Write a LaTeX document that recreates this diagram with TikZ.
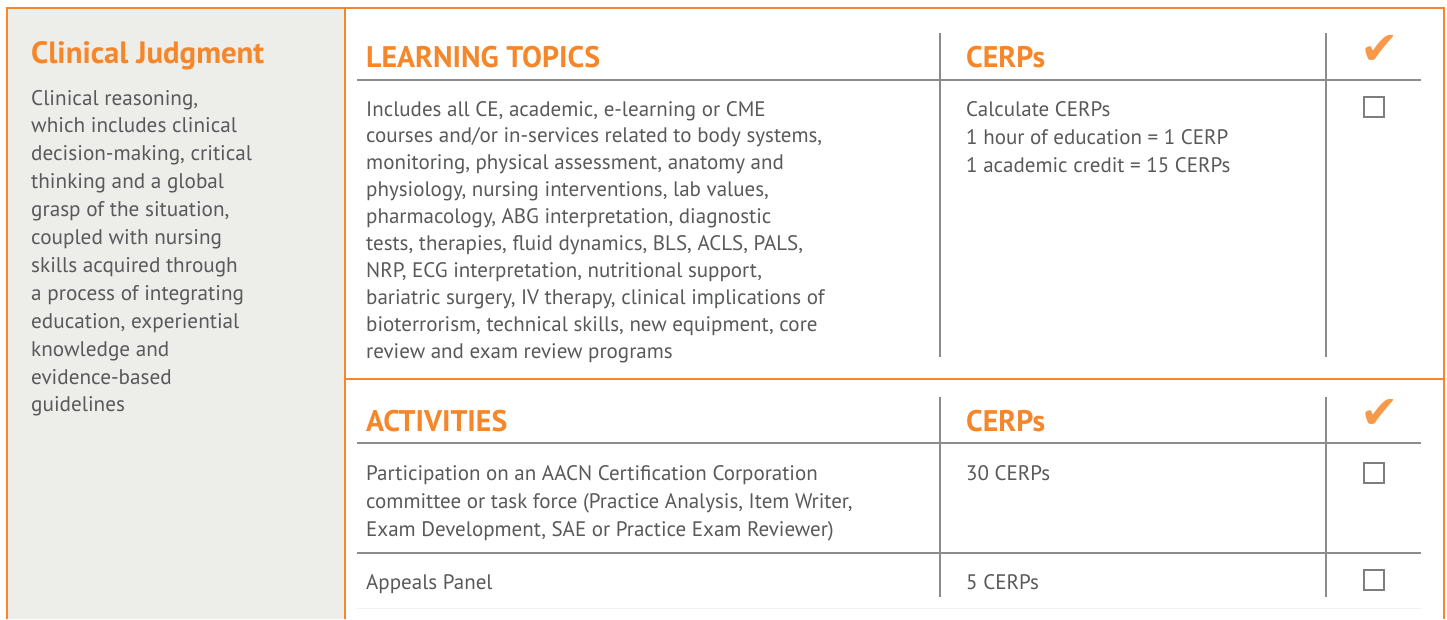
\documentclass[tikz,border=0pt]{standalone}
\usepackage{fontspec}
\setmainfont{PT Sans}
\newfontfamily\symfont{DejaVu Sans}
\definecolor{aorange}{HTML}{F6862A}
\definecolor{checkorange}{HTML}{F8994A}
\definecolor{txtgray}{HTML}{58595B}
\definecolor{rulegray}{HTML}{8C8C8C}
\definecolor{panelbg}{HTML}{EDEDE9}
\definecolor{faintgray}{HTML}{F0F0F0}
\tikzset{
  frameline/.style={draw=aorange,line width=2.2pt},
  gridline/.style={draw=rulegray,line width=1.4pt},
  heading/.style={anchor=base west,inner sep=0pt,text=aorange,font=\fontsize{29.8}{34}\selectfont\bfseries},
  bodytext/.style={anchor=base west,inner sep=0pt,text=txtgray,font=\fontsize{21}{27}\selectfont},
  sidetext/.style={anchor=base west,inner sep=0pt,text=txtgray,font=\fontsize{21.2}{28}\selectfont},
  tick/.style={inner sep=0pt,text=checkorange,font=\fontsize{46}{50}\selectfont\symfont},
  checkbox/.style={draw=rulegray!90!black,line width=1.2pt,minimum width=20pt,minimum height=20pt,inner sep=0pt}
}
\begin{document}
\begin{tikzpicture}[x=1pt,y=-1pt]
\useasboundingbox (0,0) rectangle (1447,619);
\fill[white] (0,0) rectangle (1447,619);
\fill[panelbg] (8,9) rectangle (345,619);
% frame
\draw[frameline] (7,619) -- (7,8) -- (1444,8) -- (1444,619);
\draw[frameline] (345,8) -- (345,619);
\draw[frameline] (345,379) -- (1444,379);

% left panel
\node[heading,font=\fontsize{30.8}{34}\selectfont\bfseries] (cjtitle) at (31,63) {Clinical Judgment};
\foreach \t [count=\i from 0] in {{Clinical reasoning,},{which includes clinical},{decision-making, critical},{thinking and a global},{grasp of the situation,},{coupled with nursing},{skills acquired through},{a process of integrating},{education, experiential},{knowledge and},{evidence-based},{guidelines}}
  \node[sidetext] (side\i) at (31,{105+27.9*\i}) {\t};

% learning topics table
\draw[gridline] (357,80) -- (1421,80);
\draw[gridline] (940,33) -- (940,357);
\draw[gridline] (1326,33) -- (1326,357);
\node[heading] (lthead) at (366,67) {LEARNING TOPICS};
\node[heading] (cerphead1) at (966,67) {CERPs};
\node[tick] (tick1) at (1380,50) {✔};
\foreach \t [count=\i from 0] in {{Includes all CE, academic, e-learning or CME},{courses and/or in-services related to body systems,},{monitoring, physical assessment, anatomy and},{physiology, nursing interventions, lab values,},{pharmacology, ABG interpretation, diagnostic},{tests, therapies, fluid dynamics, BLS, ACLS, PALS,},{NRP, ECG interpretation, nutritional support,},{bariatric surgery, IV therapy, clinical implications of},{bioterrorism, technical skills, new equipment, core},{review and exam review programs}}
  \node[bodytext] (lt\i) at (366,{116+26.9*\i}) {\t};
\node[bodytext] (calc0) at (966,116) {Calculate CERPs};
\node[bodytext] (calc1) at (966,144) {1 hour of education = 1 CERP};
\node[bodytext] (calc2) at (966,172) {1 academic credit = 15 CERPs};
\node[checkbox] (box1) at (1374,107) {};

% activities table
\draw[gridline] (357,443) -- (1421,443);
\draw[gridline] (357,553) -- (1421,553);
\draw[draw=faintgray,line width=1pt] (357,608) -- (1421,608);
\draw[gridline] (940,397) -- (940,597);
\draw[gridline] (1326,397) -- (1326,597);
\node[heading] (acthead) at (366,431) {ACTIVITIES};
\node[heading] (cerphead2) at (966,431) {CERPs};
\node[tick] (tick2) at (1380,414) {✔};
\node[bodytext] (act0) at (366,480) {Participation on an AACN Certification Corporation};
\node[bodytext] (act1) at (366,508) {committee or task force (Practice Analysis, Item Writer,};
\node[bodytext] (act2) at (366,536) {Exam Development, SAE or Practice Exam Reviewer)};
\node[bodytext] (cerp30) at (966,480) {30 CERPs};
\node[checkbox] (box2) at (1374,473) {};
\node[bodytext] (appeals) at (366,589) {Appeals Panel};
\node[bodytext] (cerp5) at (966,589) {5 CERPs};
\node[checkbox] (box3) at (1374,580) {};
\end{tikzpicture}
\end{document}
